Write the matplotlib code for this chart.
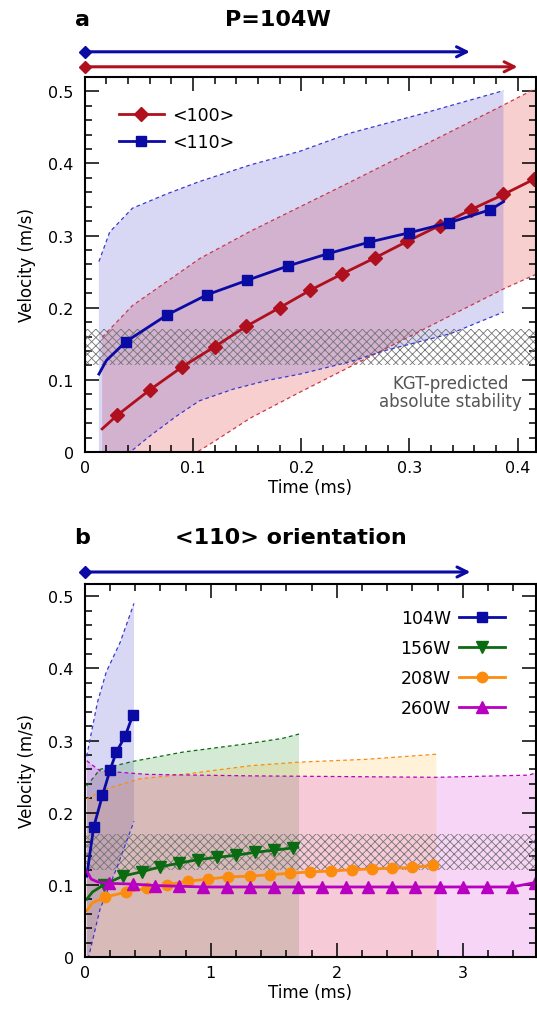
import numpy as np
import matplotlib.pyplot as plt
from matplotlib.ticker import MultipleLocator
import matplotlib.transforms as mtransforms

plt.rcParams['font.family'] = 'DejaVu Sans'
plt.rcParams['hatch.linewidth'] = 0.6
plt.rcParams['hatch.color'] = '#747474'

# ---------- panel a : P = 104 W ----------
t100 = [0.016, 0.030, 0.060, 0.090, 0.120, 0.149, 0.180, 0.208, 0.238, 0.268, 0.298, 0.328, 0.357, 0.387, 0.415]
v100 = [0.032, 0.051, 0.086, 0.118, 0.146, 0.174, 0.200, 0.224, 0.247, 0.269, 0.292, 0.314, 0.336, 0.357, 0.378]
t110 = [0.013, 0.020, 0.038, 0.076, 0.113, 0.150, 0.188, 0.225, 0.263, 0.300, 0.337, 0.375, 0.387]
v110 = [0.108, 0.127, 0.153, 0.190, 0.218, 0.238, 0.258, 0.275, 0.291, 0.304, 0.318, 0.336, 0.347]

# uncertainty bands (upper / lower edges)
b110_tu = [0.013, 0.023, 0.044, 0.076, 0.106, 0.153, 0.199, 0.245, 0.307, 0.387]
b110_vu = [0.264, 0.305, 0.338, 0.358, 0.375, 0.398, 0.417, 0.442, 0.467, 0.501]
b110_tl = [0.013, 0.042, 0.060, 0.085, 0.106, 0.137, 0.168, 0.199, 0.245, 0.276, 0.338, 0.387]
b110_vl = [0.000, 0.000, 0.022, 0.050, 0.071, 0.087, 0.099, 0.108, 0.125, 0.140, 0.164, 0.194]

b100_tu = [0.016, 0.044, 0.106, 0.153, 0.199, 0.245, 0.338, 0.387, 0.418]
b100_vu = [0.159, 0.203, 0.268, 0.306, 0.340, 0.374, 0.444, 0.481, 0.505]
b100_tl = [0.016, 0.104, 0.120, 0.153, 0.199, 0.245, 0.338, 0.387, 0.418]
b100_vl = [0.000, 0.000, 0.015, 0.047, 0.083, 0.118, 0.189, 0.226, 0.247]

# ---------- panel b : <110> orientation ----------
t104 = [0.015, 0.07, 0.14, 0.20, 0.25, 0.32, 0.38]
v104 = [0.112, 0.180, 0.224, 0.259, 0.284, 0.306, 0.335]
t156 = [0.015, 0.06, 0.15, 0.30, 0.45, 0.60, 0.75, 0.90, 1.05, 1.20, 1.35, 1.50, 1.65, 1.69]
v156 = [0.080, 0.090, 0.100, 0.112, 0.118, 0.125, 0.130, 0.135, 0.138, 0.141, 0.145, 0.148, 0.151, 0.152]
t208 = [0.015, 0.06, 0.163, 0.33, 0.49, 0.65, 0.82, 0.98, 1.14, 1.31, 1.47, 1.63, 1.79, 1.95, 2.12, 2.28, 2.44, 2.60, 2.76]
v208 = [0.064, 0.075, 0.083, 0.090, 0.095, 0.100, 0.105, 0.108, 0.111, 0.112, 0.114, 0.116, 0.118, 0.119, 0.121, 0.122, 0.123, 0.124, 0.127]
t260 = [0.015, 0.05, 0.10, 0.19, 0.38, 0.56, 0.75, 0.94, 1.13, 1.31, 1.50, 1.69, 1.88, 2.07, 2.25, 2.44, 2.62, 2.82, 3.00, 3.19, 3.39, 3.57]
v260 = [0.119, 0.108, 0.104, 0.102, 0.101, 0.099, 0.098, 0.097, 0.097, 0.097, 0.097, 0.097, 0.097, 0.097, 0.097, 0.097, 0.097, 0.097, 0.097, 0.097, 0.097, 0.103]

b104_tu = [0.015, 0.03, 0.10, 0.17, 0.28, 0.39]
b104_vu = [0.278, 0.292, 0.353, 0.395, 0.436, 0.490]
b104_tl = [0.015, 0.03, 0.12, 0.25, 0.39]
b104_vl = [0.000, 0.000, 0.066, 0.122, 0.188]
b156_t = [0.015, 0.12, 0.38, 0.78, 1.31, 1.57, 1.70]
b156_v = [0.237, 0.260, 0.271, 0.284, 0.296, 0.303, 0.309]
b208_t = [0.015, 0.17, 0.44, 0.78, 1.31, 1.70, 2.24, 2.79]
b208_v = [0.219, 0.233, 0.247, 0.253, 0.265, 0.270, 0.274, 0.281]
b260_t = [0.015, 0.12, 0.50, 1.31, 2.79, 3.52, 3.58]
b260_v = [0.272, 0.258, 0.253, 0.251, 0.249, 0.252, 0.255]

kgt_band = (0.12, 0.17)

c_red = '#b0101e'
c_blue = '#0a0aa5'
c_green = '#0b6b12'
c_orange = '#fb8c0e'
c_mag = '#b800c0'


def style_axes(ax, xmaj, xmin):
    ax.xaxis.set_major_locator(MultipleLocator(xmaj))
    ax.xaxis.set_minor_locator(MultipleLocator(xmin))
    ax.yaxis.set_major_locator(MultipleLocator(0.1))
    ax.yaxis.set_minor_locator(MultipleLocator(0.02))
    ax.tick_params(which='both', direction='in', top=True, right=True, width=1.1, labelsize=11.5)
    ax.tick_params(which='major', length=10)
    ax.tick_params(which='minor', length=5)
    ax.tick_params(axis='y', pad=8)
    ax.tick_params(axis='x', pad=6)
    for s in ax.spines.values():
        s.set_linewidth(1.5)
        s.set_zorder(6)
    ax.set_xlabel('Time (ms)', fontsize=12, labelpad=2)
    ax.set_ylabel('Velocity (m/s)', fontsize=12, labelpad=9)
    ax.yaxis.set_major_formatter(plt.FuncFormatter(lambda v, p: '0' if v == 0 else f'{v:g}'))
    ax.xaxis.set_major_formatter(plt.FuncFormatter(lambda v, p: '0' if v == 0 else f'{v:g}'))


def band(ax, tu, vu, tl, vl, color, alpha, ecolor, zf):
    ax.fill(list(tu) + list(tl)[::-1], list(vu) + list(vl)[::-1], color=color, alpha=alpha, lw=0, zorder=zf)
    ax.plot(tu, vu, ls=(0, (3, 2.5)), lw=0.9, color=ecolor, zorder=2.5)
    if max(vl) > 0:
        ax.plot(tl, vl, ls=(0, (3, 2.5)), lw=0.9, color=ecolor, zorder=2.5)


def top_arrow(ax, x_end, y, color):
    tr = mtransforms.blended_transform_factory(ax.transData, ax.transAxes)
    ax.annotate('', xy=(x_end, y), xytext=(0, y), xycoords=tr, textcoords=tr,
                arrowprops=dict(arrowstyle='->', lw=2.2, color=color, mutation_scale=18,
                                shrinkA=0, shrinkB=0), annotation_clip=False)
    ax.plot([0], [y], 'D', color=color, ms=6.5, transform=tr, clip_on=False, zorder=5)


fig = plt.figure(figsize=(5.37, 10.12), dpi=100)

# ---- panel a
ax = fig.add_axes([0.158, 0.5524, 0.840, 0.3706])
band(ax, b100_tu, b100_vu, b100_tl, b100_vl, '#e02020', 0.21, '#c83a4a', 1.0)
band(ax, b110_tu, b110_vu, b110_tl, b110_vl, '#4848d0', 0.21, '#3a3ad0', 1.1)
ax.axhspan(*kgt_band, facecolor='none', edgecolor='#747474', hatch='xxxx', lw=0, zorder=2)
ax.plot(t100, v100, color=c_red, lw=2, marker='D', ms=7, markevery=list(range(1, len(t100))),
        label='<100>', zorder=3)
ax.plot(t110, v110, color=c_blue, lw=2, marker='s', ms=7, markevery=list(range(2, len(t110) - 1)),
        label='<110>', zorder=4)
ax.text(0.338, 0.083, 'KGT-predicted\nabsolute stability', color='#555555', fontsize=12,
        ha='center', va='center', linespacing=1.0)
ax.set_xlim(0, 0.417)
ax.set_ylim(0, 0.52)
style_axes(ax, 0.1, 0.02)
ax.legend(loc='upper left', bbox_to_anchor=(0.04, 0.965), frameon=False, fontsize=12.5,
          handlelength=2.6, numpoints=1, handletextpad=0.5, labelspacing=0.55)
top_arrow(ax, 0.356, 1.067, c_blue)
top_arrow(ax, 0.40, 1.027, c_red)
fig.text(0.153, 0.980, 'a', fontsize=16, fontweight='bold', ha='center', va='center')
fig.text(0.518, 0.980, 'P=104W', fontsize=16, fontweight='bold', ha='center', va='center')

# ---- panel b (bands stacked in series order: 104W, 156W, 208W, 260W)
ax = fig.add_axes([0.158, 0.0534, 0.840, 0.3686])
band(ax, b104_tu, b104_vu, b104_tl, b104_vl, '#4848d0', 0.21, '#3a3ad0', 1.0)
band(ax, b156_t, b156_v, [b156_t[0], b156_t[-1]], [0, 0], '#158f15', 0.18, c_green, 1.1)
band(ax, b208_t, b208_v, [b208_t[0], b208_t[-1]], [0, 0], '#ffab00', 0.15, c_orange, 1.2)
band(ax, b260_t, b260_v, [b260_t[0], b260_t[-1]], [0, 0], '#d108d1', 0.17, c_mag, 1.3)
ax.axhspan(*kgt_band, facecolor='none', edgecolor='#747474', hatch='xxxx', lw=0, zorder=2)
ax.plot(t104, v104, color=c_blue, lw=2, marker='s', ms=7, markevery=list(range(1, len(t104))),
        label='104W', zorder=3)
ax.plot(t156, v156, color=c_green, lw=2, marker='v', ms=8, markevery=list(range(2, len(t156) - 1)),
        label='156W', zorder=3)
ax.plot(t208, v208, color=c_orange, lw=2, marker='o', ms=7.5, markevery=list(range(2, len(t208))),
        label='208W', zorder=3)
ax.plot(t260, v260, color=c_mag, lw=2, marker='^', ms=8, markevery=list(range(3, len(t260))),
        label='260W', zorder=3)
ax.set_xlim(0, 3.58)
ax.set_ylim(0, 0.517)
style_axes(ax, 1, 0.2)
ax.legend(loc='upper right', bbox_to_anchor=(0.965, 0.975), frameon=False, fontsize=12.5,
          handlelength=2.6, numpoints=1, markerfirst=False, handletextpad=0.5, labelspacing=0.7)
top_arrow(ax, 3.06, 1.032, c_blue)
fig.text(0.153, 0.468, 'b', fontsize=16, fontweight='bold', ha='center', va='center')
fig.text(0.542, 0.468, '<110> orientation', fontsize=16, fontweight='bold', ha='center', va='center')

fig.savefig('out.png', dpi=100)
